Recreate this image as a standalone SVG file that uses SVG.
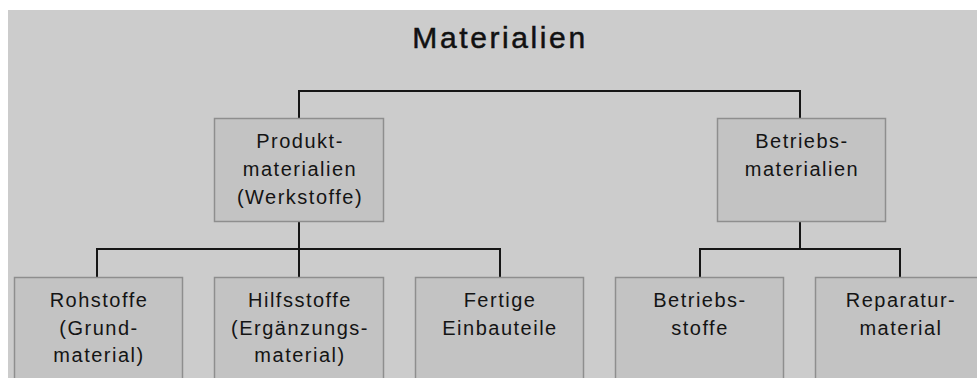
<svg xmlns="http://www.w3.org/2000/svg" width="977" height="378" viewBox="0 0 977 378">
<style>
.box{fill:#c3c3c3;stroke:#8e8e8e;stroke-width:1.5}
.lbl{font-family:"Liberation Sans",Arial,sans-serif;font-size:20px;letter-spacing:1.5px;fill:#141414;text-anchor:middle}
.title{font-family:"Liberation Sans",Arial,sans-serif;font-size:30px;letter-spacing:2.6px;fill:#111;stroke:#111;stroke-width:0.5;text-anchor:middle}
.con{fill:none;stroke:#151515;stroke-width:2}
</style>
<rect x="0" y="0" width="977" height="378" fill="#ffffff"/>
<rect x="8" y="10" width="969" height="368" fill="#cccccc"/>
<text class="title" x="500" y="48">Materialien</text>
<g id="connectors">
<path class="con" d="M299,118 V91 H800 V118"/>
<path class="con" d="M299,222 V249"/>
<path class="con" d="M97,277 V249 H500 V277"/>
<path class="con" d="M299,249 V277"/>
<path class="con" d="M800,222 V249"/>
<path class="con" d="M700,277 V249 H900 V277"/>
</g>
<g id="produktmaterialien">
<rect class="box" x="214.5" y="118.5" width="169" height="103"/>
<text class="lbl" x="300" y="148">Produkt-</text>
<text class="lbl" x="300" y="176">materialien</text>
<text class="lbl" x="300" y="204">(Werkstoffe)</text>
</g>
<g id="betriebsmaterialien">
<rect class="box" x="717.5" y="118.5" width="168" height="103"/>
<text class="lbl" x="802" y="148">Betriebs-</text>
<text class="lbl" x="802" y="176">materialien</text>
</g>
<g id="rohstoffe">
<rect class="box" x="14.5" y="277.5" width="168" height="110"/>
<text class="lbl" x="99" y="307">Rohstoffe</text>
<text class="lbl" x="99" y="335">(Grund-</text>
<text class="lbl" x="99" y="362">material)</text>
</g>
<g id="hilfsstoffe">
<rect class="box" x="214.5" y="277.5" width="169" height="110"/>
<text class="lbl" x="300" y="307">Hilfsstoffe</text>
<text class="lbl" x="300" y="335">(Ergänzungs-</text>
<text class="lbl" x="300" y="362">material)</text>
</g>
<g id="fertige">
<rect class="box" x="415.5" y="277.5" width="168" height="110"/>
<text class="lbl" x="500" y="307">Fertige</text>
<text class="lbl" x="500" y="335">Einbauteile</text>
</g>
<g id="betriebsstoffe">
<rect class="box" x="615.5" y="277.5" width="168" height="110"/>
<text class="lbl" x="700" y="307">Betriebs-</text>
<text class="lbl" x="700" y="335">stoffe</text>
</g>
<g id="reparaturmaterial">
<rect class="box" x="815.5" y="277.5" width="169" height="110"/>
<text class="lbl" x="901" y="307">Reparatur-</text>
<text class="lbl" x="901" y="335">material</text>
</g>
</svg>
